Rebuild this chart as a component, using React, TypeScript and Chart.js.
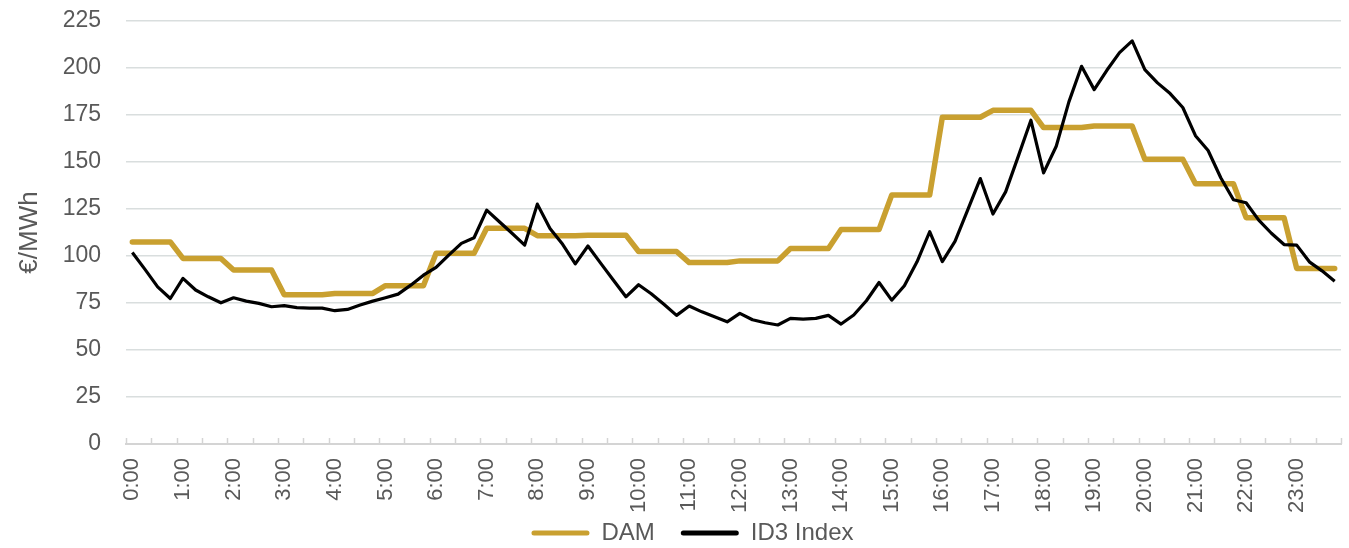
import React, { useEffect, useRef } from 'react';
import { Chart, registerables } from 'chart.js';

Chart.register(...registerables);

const hourLabels = ['0:00', '1:00', '2:00', '3:00', '4:00', '5:00', '6:00', '7:00', '8:00', '9:00', '10:00', '11:00',
  '12:00', '13:00', '14:00', '15:00', '16:00', '17:00', '18:00', '19:00', '20:00', '21:00', '22:00', '23:00'];
const quarterSuffixes = [':00', ':15', ':30', ':45'];
const categories = hourLabels.flatMap((h) => quarterSuffixes.map((q) => h.replace(':00', q)));

const damHourly = [107.5, 98.7, 92.5, 79.4, 80.1, 84.2, 101.4, 114.7, 110.8, 111.1, 102.4, 96.5,
  97.4, 104.0, 114.1, 132.4, 173.8, 177.5, 168.3, 169.2, 151.5, 138.4, 120.4, 93.4];

const id3Index = [
  101.9, 92.9, 83.6, 77.4, 88.1, 81.9, 78.3, 75.1, 77.8, 76.0, 74.8, 73.0,
  73.6, 72.5, 72.3, 72.3, 70.9, 71.6, 73.9, 76.0, 77.8, 79.7, 84.5, 89.8,
  93.9, 100.5, 106.7, 109.7, 124.4, 118.2, 112.1, 105.8, 127.6, 114.6, 106.2, 95.8,
  105.3, 96.2, 87.2, 78.3, 84.7, 79.9, 74.3, 68.4, 73.4, 70.3, 67.7, 65.0,
  69.5, 66.1, 64.5, 63.3, 66.8, 66.4, 66.8, 68.4, 63.8, 68.6, 76.2, 85.9,
  76.5, 84.2, 96.9, 112.9, 97.0, 107.8, 124.4, 141.2, 122.3, 134.1, 153.0, 172.2,
  144.2, 158.4, 182.0, 200.9, 188.5, 198.8, 208.2, 214.4, 199.1, 192.1, 186.4, 179.0,
  164.0, 156.1, 141.6, 129.9, 128.3, 119.1, 112.1, 106.1, 105.8, 96.9, 92.1, 86.6,
];

const seriesNames = ['DAM', 'ID3 Index'];
const yAxisTitle = '€/MWh';
const yMin = 0;
const yMax = 225;
const yStep = 25;

const FONT = '"Liberation Sans", Arial, sans-serif';
const TEXT = '#595959';
const GRID = '#d9dede';
const GOLD = '#c9a030';
const LEGEND_PAD = 26;
const LEGEND_FONT = 24;

const insideTicks = {
  id: 'insideTicks',
  beforeDatasetsDraw(chart: any) {
    const xs = chart.scales.x;
    const n = categories.length;
    const half = (xs.getPixelForValue(1) - xs.getPixelForValue(0)) / 2;
    const ctx = chart.ctx;
    const bottom = chart.chartArea.bottom;
    ctx.save();
    ctx.strokeStyle = '#d4d4d4';
    ctx.lineWidth = 1.5;
    for (let i = 0; i <= n; i += 2) {
      const x = i < n ? xs.getPixelForValue(i) - half : xs.getPixelForValue(n - 1) + half;
      ctx.beginPath();
      ctx.moveTo(Math.round(x) + 0.5, bottom);
      ctx.lineTo(Math.round(x) + 0.5, bottom - 6);
      ctx.stroke();
    }
    ctx.restore();
  },
};

const legendTweak = {
  id: 'legendTweak',
  beforeLayout(chart: any) {
    const lg = chart.legend;
    if (lg && !lg.__patched) {
      const origFit = lg.fit;
      lg.fit = function () {
        origFit.call(this);
        this.height = 34;
      };
      lg.__patched = true;
    }
  },
  afterLayout(chart: any) {
    const lg = chart.legend;
    if (!lg) return;
    lg.left += 22;
    lg.right += 22;
    lg.top = 533 - (LEGEND_PAD + LEGEND_FONT / 2);
    lg.bottom = lg.top + LEGEND_PAD * 2 + LEGEND_FONT;
    lg.height = lg.bottom - lg.top;
  },
};

export default function App() {
  const ref = useRef<HTMLCanvasElement | null>(null);

  useEffect(() => {
    document.body.style.margin = '0';
    const canvas = ref.current;
    if (!canvas) return;
    const chart = new Chart(canvas, {
      type: 'line',
      data: {
        labels: categories,
        datasets: [
          {
            label: seriesNames[0],
            data: damHourly.flatMap((v) => [v, v, v, v]),
            borderColor: GOLD,
            backgroundColor: GOLD,
            borderWidth: 5.5,
            borderCapStyle: 'round',
            borderJoinStyle: 'round',
            pointRadius: 0,
            tension: 0,
            order: 2,
          },
          {
            label: seriesNames[1],
            data: id3Index,
            borderColor: '#000000',
            backgroundColor: '#000000',
            borderWidth: 3.2,
            borderJoinStyle: 'round',
            pointRadius: 0,
            tension: 0,
            order: 1,
          },
        ],
      },
      options: {
        animation: false,
        responsive: true,
        maintainAspectRatio: false,
        layout: { padding: { top: 21, right: 8, left: 0, bottom: 0 } },
        plugins: {
          tooltip: { enabled: false },
          legend: {
            position: 'bottom',
            labels: {
              color: TEXT,
              font: { family: FONT, size: LEGEND_FONT },
              boxWidth: 58,
              boxHeight: 5,
              padding: LEGEND_PAD,
              useBorderRadius: true,
              borderRadius: 2.5,
              generateLabels: (c: any) =>
                c.data.datasets.map((ds: any, i: number) => ({
                  text: ds.label,
                  fillStyle: ds.borderColor,
                  strokeStyle: ds.borderColor,
                  lineWidth: 0,
                  hidden: false,
                  datasetIndex: i,
                  fontColor: TEXT,
                  borderRadius: 2.5,
                })),
            },
          },
        },
        scales: {
          x: {
            type: 'category',
            offset: true,
            afterFit: (scale: any) => {
              scale.height = 70;
              scale.paddingLeft = 0;
              scale.paddingRight = 0;
            },
            grid: { display: true, drawOnChartArea: false, drawTicks: false },
            border: { display: true, color: '#d4d4d4', width: 2 },
            ticks: {
              autoSkip: false,
              maxRotation: 90,
              minRotation: 90,
              padding: 14,
              color: TEXT,
              font: { family: FONT, size: 22 },
              callback: (_v: any, idx: number) => (idx % 4 === 0 ? hourLabels[idx / 4] : ''),
            },
          },
          y: {
            min: yMin,
            max: yMax,
            afterFit: (scale: any) => {
              scale.width = 126;
              scale.paddingTop = 0;
              scale.paddingBottom = 0;
            },
            grid: { color: GRID, lineWidth: 1.5, drawTicks: false },
            border: { display: false },
            ticks: {
              stepSize: yStep,
              padding: 25,
              color: TEXT,
              font: { family: FONT, size: 23 },
            },
            title: {
              display: true,
              text: yAxisTitle,
              color: TEXT,
              font: { family: FONT, size: 26 },
              padding: { top: 14, bottom: 0 },
            },
          },
        },
      },
      plugins: [insideTicks, legendTweak],
    } as any);
    return () => chart.destroy();
  }, []);

  return (
    <div style={{ position: 'fixed', left: 0, top: 0, width: '1349px', height: '548px' }}>
      <canvas ref={ref} />
    </div>
  );
}
